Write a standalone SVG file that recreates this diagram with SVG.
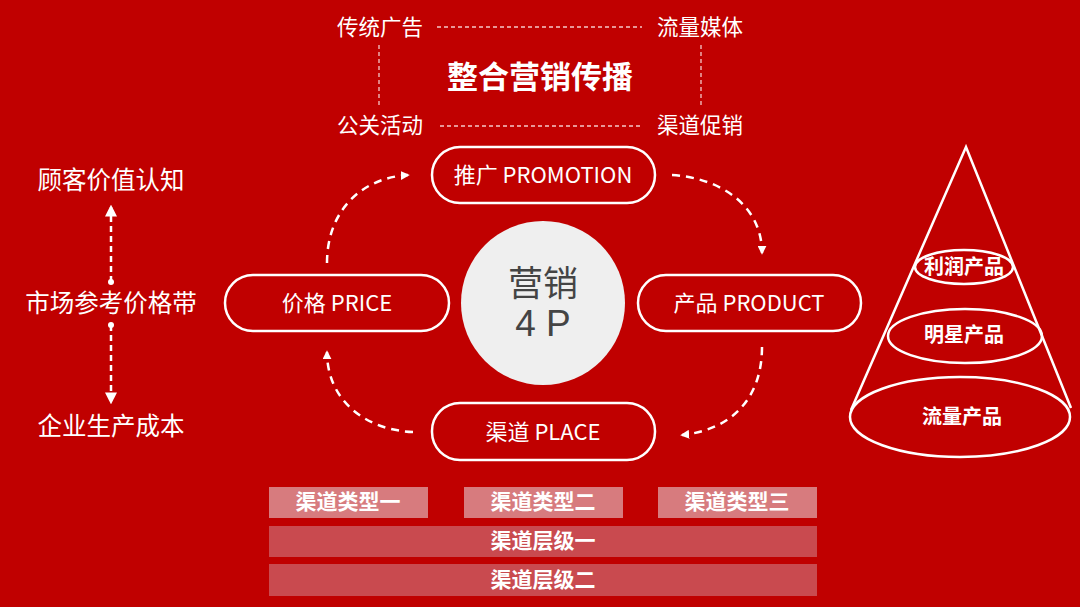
<svg xmlns="http://www.w3.org/2000/svg" width="1080" height="607" viewBox="0 0 1080 607">
<defs>
<marker id="ah" viewBox="0 0 10 10" refX="8" refY="5" markerWidth="9" markerHeight="9" markerUnits="userSpaceOnUse" orient="auto">
<path d="M0,0 L10,5 L0,10 z" fill="#fff"/>
</marker>
<marker id="ahL" viewBox="0 0 10 10" refX="8" refY="5" markerWidth="12" markerHeight="12" markerUnits="userSpaceOnUse" orient="auto">
<path d="M0,0 L10,5 L0,10 z" fill="#fff"/>
</marker>
<marker id="dot" viewBox="0 0 10 10" refX="5" refY="5" markerWidth="6" markerHeight="6" markerUnits="userSpaceOnUse">
<circle cx="5" cy="5" r="5" fill="#fff"/>
</marker>
</defs>
<style>
text{font-family:"Noto Sans CJK SC","Noto Sans",sans-serif;fill:#fff;text-anchor:middle;dominant-baseline:central}
.lbl{font-size:21.5px}
.side{font-size:24.5px}
.pill{fill:none;stroke:#fff;stroke-width:2.5}
.ptxt{font-size:22px}
.thin{stroke:#f3c8c8;stroke-width:1.3;stroke-dasharray:4,3;fill:none}
.arc{stroke:#fff;stroke-width:2.5;stroke-dasharray:8,6;fill:none}
.cone{stroke:#fff;stroke-width:2.5;fill:none}
.bold{font-weight:bold}
</style>
<rect width="1080" height="607" fill="#C00000"/>

<g id="imc">
<text class="lbl" x="380" y="25">传统广告</text>
<text class="lbl" x="700" y="25">流量媒体</text>
<text class="lbl" x="380" y="123">公关活动</text>
<text class="lbl" x="700" y="123">渠道促销</text>
<text x="540" y="74" class="bold" style="font-size:31px">整合营销传播</text>
</g>

<g id="connectors">
<line class="thin" x1="437" y1="27" x2="642" y2="27"/>
<line class="thin" x1="440" y1="126" x2="642" y2="126"/>
<line class="thin" x1="379" y1="45" x2="379" y2="108"/>
<line class="thin" x1="701" y1="45" x2="701" y2="108"/>
<path class="arc" d="M327,263 C327,212 360,178 408,175" marker-end="url(#ah)"/>
<path class="arc" d="M672,175 C720,178 762,205 762,253" marker-end="url(#ah)"/>
<path class="arc" d="M762,347 C762,400 730,430 682,435" marker-end="url(#ah)"/>
<path class="arc" d="M413,432 C365,430 327,400 327,352" marker-end="url(#ah)"/>
<path class="arc" style="stroke-dasharray:6,4" d="M111,282 L111,207" marker-start="url(#dot)" marker-end="url(#ahL)"/>
<path class="arc" style="stroke-dasharray:6,4" d="M111,325 L111,402" marker-start="url(#dot)" marker-end="url(#ahL)"/>
</g>

<g id="left-labels">
<text class="side" x="111" y="178">顾客价值认知</text>
<text class="side" x="111" y="301">市场参考价格带</text>
<text class="side" x="111" y="424">企业生产成本</text>
</g>

<g id="promotion">
<rect class="pill" x="432" y="147" width="223" height="56" rx="28"/>
<text class="ptxt" x="543" y="173">推广 PROMOTION</text>
</g>
<g id="price">
<rect class="pill" x="225" y="275" width="224" height="56" rx="28"/>
<text class="ptxt" x="337" y="301">价格 PRICE</text>
</g>
<g id="product">
<rect class="pill" x="638" y="275" width="223" height="56" rx="28"/>
<text class="ptxt" x="749" y="301">产品 PRODUCT</text>
</g>
<g id="place">
<rect class="pill" x="432" y="403" width="223" height="57" rx="28"/>
<text class="ptxt" x="543" y="430">渠道 PLACE</text>
</g>
<g id="center">
<circle cx="543" cy="303" r="82" fill="#EFEFEF"/>
<text x="543" y="280" style="font-size:35px;fill:#444">营销</text>
<text x="543" y="323" style="font-size:37px;fill:#444;font-family:'Liberation Sans',sans-serif">4 P</text>
</g>

<g id="cone">
<path class="cone" d="M851,410 L966,147 L1071,408"/>
<ellipse class="cone" cx="960" cy="417" rx="110" ry="40"/>
<ellipse class="cone" cx="965" cy="336" rx="77" ry="27"/>
<ellipse class="cone" cx="964" cy="267" rx="49" ry="17"/>
<text class="bold" x="964" y="265" style="font-size:20px">利润产品</text>
<text class="bold" x="964" y="333" style="font-size:20px">明星产品</text>
<text class="bold" x="962" y="415" style="font-size:20px">流量产品</text>
</g>

<g id="channels">
<rect x="269" y="487" width="159" height="31" fill="#D77B7E"/>
<rect x="464" y="487" width="159" height="31" fill="#D77B7E"/>
<rect x="658" y="487" width="159" height="31" fill="#D77B7E"/>
<rect x="269" y="526" width="548" height="31" fill="#C94A4F"/>
<rect x="269" y="564" width="548" height="32" fill="#C94A4F"/>
<text class="bold" x="348" y="500" style="font-size:21px">渠道类型一</text>
<text class="bold" x="543" y="500" style="font-size:21px">渠道类型二</text>
<text class="bold" x="737" y="500" style="font-size:21px">渠道类型三</text>
<text class="bold" x="543" y="539" style="font-size:21px">渠道层级一</text>
<text class="bold" x="543" y="578" style="font-size:21px">渠道层级二</text>
</g>
</svg>
